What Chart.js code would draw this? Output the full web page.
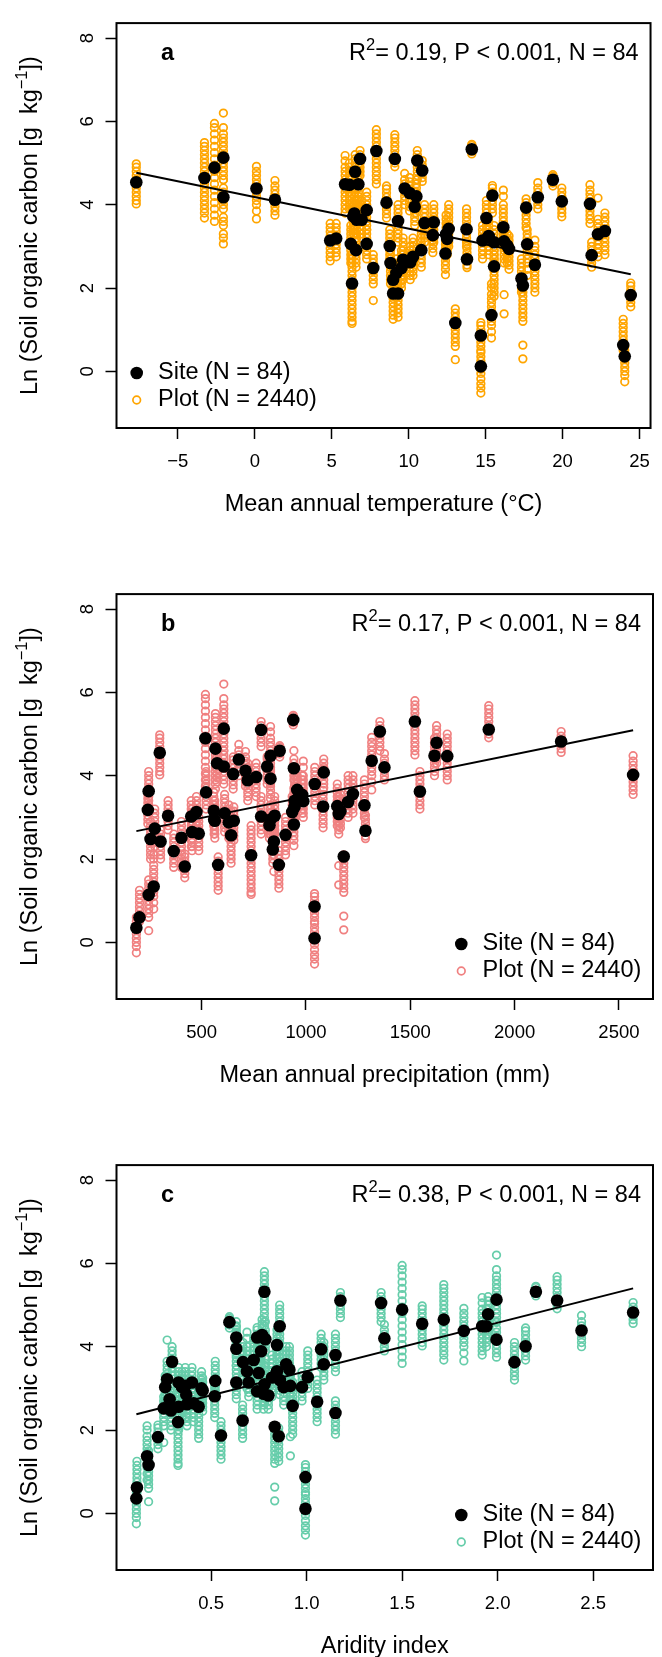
<!DOCTYPE html>
<html>
<head>
<meta charset="utf-8">
<title>Soil organic carbon vs climate</title>
<script src="https://cdn.jsdelivr.net/npm/chart.js@4.4.0/dist/chart.umd.min.js"></script>
<style>
    html, body { margin: 0; padding: 0; background: #fff; overflow: hidden; }
    #wrap { position: relative; width: 662px; height: 1657px; overflow: hidden; }
    .panel { position: absolute; left: 0; width: 662px; height: 571px; }
</style>
</head>
<body>
<div id="wrap">
    <div class="panel" style="top:0px"><canvas id="chart-a" width="662" height="571"></canvas></div>
    <div class="panel" style="top:571px"><canvas id="chart-b" width="662" height="571"></canvas></div>
    <div class="panel" style="top:1142px"><canvas id="chart-c" width="662" height="571"></canvas></div>
</div>
<script>
// Panel a: site mean annual temperature (°C) and site Ln(SOC), sorted by SOC
const siteTemp = [14.69, 24.04, 23.94, 14.69, 13.03, 15.38, 24.43, 8.99, 9.31, 17.42,
    6.32, 8.99, 17.33, 9.2, 7.7, 9.53, 15.55, 18.2, 8.82, 10.1,
    9.64, 13.79, 10.28, 21.89, 12.39, 6.58, 10.82, 16.52, 8.77, 16.4,
    17.7, 6.24, 7.27, 15.55, 16.2, 4.9, 14.8, 12.5, 5.29, 15.2,
    11.57, 12.43, 22.3, 22.75, 13.76, 12.6, 16.15, 11.03, 11.63, 9.31,
    6.62, 6.95, 15.05, 6.4, 6.47, 7.27, 17.63, 10.39, 21.78, 8.56,
    19.95, 1.31, -2.04, 18.39, 10.5, 15.44, 10.06, 0.11, 9.74, 6.15,
    5.87, 6.73, -7.7, 19.37, -3.27, 6.52, 10.88, -2.62, 10.56, 6.84,
    9.1, -2.04, 7.9, 14.1];
const siteSocA = [0.12, 0.36, 0.63, 0.86, 1.16, 1.35, 1.83, 1.87, 1.87, 2.06,
    2.11, 2.20, 2.23, 2.36, 2.48, 2.48, 2.52, 2.56, 2.60, 2.62,
    2.68, 2.69, 2.75, 2.79, 2.83, 2.91, 2.91, 2.94, 3.01, 3.02,
    3.05, 3.06, 3.06, 3.10, 3.12, 3.14, 3.14, 3.18, 3.19, 3.25,
    3.27, 3.29, 3.29, 3.37, 3.41, 3.42, 3.46, 3.56, 3.58, 3.61,
    3.64, 3.64, 3.68, 3.72, 3.79, 3.87, 3.93, 3.95, 4.02, 4.05,
    4.08, 4.12, 4.18, 4.18, 4.20, 4.22, 4.28, 4.39, 4.39, 4.48,
    4.49, 4.49, 4.54, 4.60, 4.64, 4.79, 4.82, 4.89, 5.06, 5.10,
    5.10, 5.13, 5.29, 5.33];

// Plot-level Ln(SOC) of each site, same order as siteTemp / siteSocA
const plotSoc = [
    [-0.52, -0.4, -0.3, -0.18, -0.05, 0.05, 0.15, 0.25, 0.35, 0.45],
    [-0.25, -0.1, 0.0, 0.1, 0.2, 0.3, 0.4, 0.5, 0.6],
    [0.5, 0.65, 0.75, 0.85, 0.95, 1.05, 1.15, 1.25],
    [0.5, 0.6, 0.7, 0.8, 0.9, 1.0, 1.1, 1.17],
    [0.28, 0.6, 0.7, 0.8, 0.9, 1.0, 1.1, 1.2, 1.3, 1.4, 1.5],
    [0.8, 0.95, 1.1, 1.2, 1.3, 1.45, 1.55, 1.65, 1.75, 1.85, 2.0, 2.1],
    [1.55, 1.65, 1.75, 1.85, 1.95, 2.05, 2.12],
    [1.25, 1.35, 1.45, 1.55, 1.65, 1.75, 1.85, 1.95, 2.05],
    [1.3, 1.4, 1.5, 1.6, 1.7, 1.8, 1.9, 2.0, 2.1, 2.2],
    [0.3, 0.63, 1.2, 1.3, 1.4, 1.5, 1.6, 1.7, 1.8, 1.9, 2.0, 2.1],
    [1.15, 1.2, 1.3, 1.4, 1.5, 1.6, 1.7, 1.8, 1.9, 2.0, 2.1, 2.2, 2.3, 2.4, 2.5, 2.6, 2.7, 2.8],
    [1.8, 1.9, 2.0, 2.1, 2.2, 2.3, 2.4, 2.5, 2.6],
    [1.9, 2.0, 2.1, 2.2, 2.3, 2.4, 2.5, 2.6, 2.7],
    [2.0, 2.1, 2.2, 2.3, 2.4, 2.5, 2.6, 2.7],
    [1.7, 2.1, 2.2, 2.3, 2.4, 2.5, 2.6, 2.7, 2.8],
    [2.0, 2.1, 2.2, 2.3, 2.4, 2.5, 2.6, 2.7, 2.8, 2.9],
    [1.8, 1.9, 2.0, 2.1, 2.2, 2.3, 2.4, 2.5, 2.6, 2.7, 2.8, 2.9],
    [1.9, 2.0, 2.1, 2.2, 2.3, 2.4, 2.5, 2.6, 2.7, 2.8, 2.9, 3.0, 3.15],
    [2.1, 2.2, 2.3, 2.4, 2.5, 2.6, 2.7, 2.8, 2.9, 3.0],
    [2.2, 2.3, 2.4, 2.5, 2.6, 2.7, 2.8, 2.9, 3.0],
    [2.2, 2.3, 2.4, 2.5, 2.6, 2.7, 2.8, 2.9, 3.0, 3.1, 3.2],
    [2.49, 2.55, 2.65, 2.75, 2.85, 2.95, 3.05],
    [2.3, 2.4, 2.5, 2.6, 2.7, 2.8, 2.9, 3.0, 3.1, 3.2],
    [2.5, 2.6, 2.7, 2.8, 2.9, 3.0, 3.1],
    [2.32, 2.45, 2.55, 2.65, 2.75, 2.85, 2.95, 3.05, 3.15],
    [2.5, 2.6, 2.7, 2.8, 2.9, 3.0, 3.1, 3.2, 3.3],
    [2.5, 2.6, 2.7, 2.8, 2.9, 3.0, 3.1, 3.2, 3.3, 3.4],
    [2.45, 2.55, 2.65, 2.75, 2.85, 2.95, 3.05, 3.15, 3.25],
    [2.6, 2.7, 2.8, 2.9, 3.0, 3.1, 3.2, 3.3, 3.4],
    [2.6, 2.7, 2.8, 2.9, 3.0, 3.1, 3.2, 3.3],
    [2.3, 2.45, 2.6, 2.7, 2.8, 2.9, 3.0, 3.1, 3.2, 3.3, 3.4],
    [2.6, 2.7, 2.8, 2.9, 3.0, 3.1, 3.2, 3.3, 3.4, 3.5],
    [2.7, 2.8, 2.9, 3.0, 3.1, 3.2, 3.3, 3.4],
    [2.6, 2.7, 2.8, 2.9, 3.0, 3.1, 3.2, 3.3, 3.4, 3.5],
    [1.38, 1.84, 2.6, 2.7, 2.8, 2.9, 3.0, 3.1, 3.2, 3.3, 3.4, 3.5],
    [2.65, 2.75, 2.85, 2.95, 3.05, 3.15, 3.25, 3.35, 3.45, 3.55],
    [2.7, 2.8, 2.9, 3.0, 3.1, 3.2, 3.3, 3.4, 3.5],
    [2.8, 2.9, 3.0, 3.1, 3.2, 3.3, 3.4, 3.5],
    [2.75, 2.85, 2.95, 3.05, 3.15, 3.25, 3.35, 3.45, 3.55],
    [2.8, 2.9, 3.0, 3.1, 3.2, 3.3, 3.4, 3.5, 3.6],
    [2.85, 2.95, 3.05, 3.15, 3.25, 3.35, 3.45, 3.55, 3.65],
    [2.85, 2.95, 3.05, 3.15, 3.25, 3.35, 3.45, 3.55, 3.65, 3.75],
    [2.75, 2.85, 2.95, 3.05, 3.15, 3.25, 3.35, 3.45, 3.55, 3.65, 4.16],
    [2.8, 2.9, 3.0, 3.1, 3.2, 3.3, 3.4, 3.5, 3.6, 3.7, 3.8],
    [3.0, 3.1, 3.2, 3.3, 3.4, 3.5, 3.6, 3.7, 3.8, 3.9],
    [3.0, 3.1, 3.2, 3.3, 3.4, 3.5, 3.6, 3.7, 3.8, 3.9, 4.0],
    [3.0, 3.1, 3.2, 3.3, 3.4, 3.5, 3.6, 3.7, 3.8, 3.9, 4.0, 4.2, 4.35],
    [3.1, 3.2, 3.3, 3.4, 3.5, 3.6, 3.7, 3.8, 3.9, 4.0],
    [3.1, 3.2, 3.3, 3.4, 3.5, 3.6, 3.7, 3.8, 3.9, 4.0],
    [3.1, 3.2, 3.3, 3.4, 3.5, 3.6, 3.7, 3.8, 3.9, 4.0],
    [3.2, 3.3, 3.4, 3.5, 3.6, 3.7, 3.8, 3.9, 4.0, 4.1],
    [3.2, 3.3, 3.4, 3.5, 3.6, 3.7, 3.8, 3.9, 4.0, 4.1],
    [3.2, 3.3, 3.4, 3.5, 3.6, 3.7, 3.8, 3.9, 4.0, 4.1],
    [3.3, 3.4, 3.5, 3.6, 3.7, 3.8, 3.9, 4.0],
    [3.3, 3.4, 3.5, 3.6, 3.7, 3.8, 3.9, 4.0, 4.1, 4.2],
    [3.4, 3.5, 3.6, 3.7, 3.8, 3.9, 4.0, 4.1, 4.2, 4.3],
    [3.45, 3.55, 3.65, 3.75, 3.85, 3.95, 4.05, 4.14],
    [3.5, 3.6, 3.7, 3.8, 3.9, 4.0, 4.1, 4.2, 4.3],
    [3.55, 3.65, 3.75, 3.85, 3.95, 4.05, 4.15, 4.25, 4.35, 4.48],
    [3.68, 3.78, 3.88, 3.98, 4.08, 4.18, 4.28, 4.38, 4.45],
    [3.71, 3.8, 3.9, 4.0, 4.1, 4.2, 4.3, 4.4],
    [3.75, 3.85, 3.95, 4.05, 4.15, 4.25, 4.35, 4.45, 4.58],
    [3.06, 3.2, 3.3, 3.5, 3.6, 3.7, 3.9, 4.0, 4.1, 4.2, 4.3, 4.4, 4.6],
    [3.9, 4.0, 4.1, 4.2, 4.3, 4.4, 4.53],
    [3.8, 3.9, 4.0, 4.1, 4.2, 4.3, 4.4, 4.5, 4.6],
    [3.8, 3.9, 4.0, 4.1, 4.2, 4.3, 4.4, 4.46],
    [3.85, 3.95, 4.05, 4.15, 4.25, 4.35, 4.45, 4.55, 4.65],
    [3.66, 3.85, 4.0, 4.1, 4.2, 4.3, 4.4, 4.5, 4.6, 4.7, 4.8, 4.92],
    [4.0, 4.1, 4.2, 4.3, 4.4, 4.5, 4.6, 4.75],
    [3.9, 4.0, 4.1, 4.2, 4.3, 4.4, 4.5, 4.6, 4.7, 4.8, 4.9, 5.0],
    [3.8, 3.9, 4.0, 4.1, 4.2, 4.3, 4.4, 4.5, 4.6, 4.7, 4.8, 4.9, 5.05, 5.18],
    [4.0, 4.1, 4.2, 4.3, 4.4, 4.5, 4.6, 4.7, 4.8, 4.9],
    [4.02, 4.1, 4.2, 4.3, 4.4, 4.5, 4.6, 4.7, 4.8, 4.9, 4.98],
    [4.45, 4.52, 4.6, 4.68, 4.72],
    [3.68, 3.8, 3.9, 4.0, 4.1, 4.2, 4.3, 4.4, 4.5, 4.6, 4.7, 4.8, 4.9, 5.0, 5.1, 5.2, 5.3, 5.4, 5.49],
    [4.3, 4.4, 4.5, 4.6, 4.7, 4.8, 4.9, 5.0, 5.1, 5.2],
    [4.56, 4.65, 4.75, 4.85, 4.95, 5.06],
    [3.6, 3.75, 3.9, 4.05, 4.2, 4.35, 4.5, 4.65, 4.8, 4.95, 5.1, 5.25, 5.4, 5.55, 5.7, 5.85, 5.95],
    [4.6, 4.7, 4.8, 4.9, 5.0, 5.1, 5.2, 5.3],
    [4.7, 4.8, 4.9, 5.0, 5.1, 5.2, 5.3],
    [4.91, 5.0, 5.1, 5.2, 5.3, 5.4, 5.5, 5.6, 5.68],
    [4.6, 4.7, 4.8, 4.9, 5.0, 5.1, 5.2, 5.3, 5.4, 5.5, 5.6, 5.7, 5.85, 6.2],
    [4.5, 4.6, 4.7, 4.8, 4.9, 5.0, 5.1, 5.2, 5.3, 5.4, 5.5, 5.6, 5.7, 5.8],
    [5.22, 5.28, 5.35, 5.42, 5.45]
];

// Panel b: site mean annual precipitation (mm) and Ln(SOC), sorted by SOC
const sitePrecip = [1041, 187, 202, 1041, 246, 270, 419, 579, 870, 1181,
    737, 366, 841, 303, 846, 255, 403, 641, 902, 486,
    454, 1285, 275, 825, 942, 630, 563, 654, 560, 830,
    450, 785, 339, 850, 1157, 610, 475, 934, 1165, 558,
    242, 945, 1082, 1150, 1280, 1202, 987, 946, 982, 1225,
    521, 1546, 246, 958, 1042, 721, 830, 761, 2568, 651,
    1085, 710, 942, 1376, 606, 814, 574, 1315, 678, 1677,
    830, 1616, 299, 874, 566, 1626, 2223, 518, 1354, 785,
    1876, 606, 1522, 939];
const siteSocB = [0.10, 0.35, 0.60, 0.86, 1.14, 1.34, 1.82, 1.86, 1.86, 2.06,
    2.09, 2.19, 2.23, 2.42, 2.42, 2.48, 2.51, 2.57, 2.58, 2.61,
    2.65, 2.68, 2.73, 2.81, 2.83, 2.88, 2.92, 2.92, 2.95, 2.95,
    3.02, 3.02, 3.04, 3.04, 3.08, 3.10, 3.13, 3.13, 3.15, 3.16,
    3.18, 3.25, 3.26, 3.27, 3.29, 3.37, 3.39, 3.40, 3.54, 3.56,
    3.60, 3.62, 3.63, 3.66, 3.80, 3.89, 3.93, 3.97, 4.02, 4.04,
    4.08, 4.12, 4.18, 4.20, 4.22, 4.22, 4.30, 4.36, 4.39, 4.47,
    4.48, 4.48, 4.55, 4.60, 4.65, 4.79, 4.82, 4.90, 5.06, 5.10,
    5.11, 5.13, 5.30, 5.34];

// Panel c: site aridity index and Ln(SOC), sorted by SOC
const siteArid = [0.994, 0.109, 0.112, 0.994, 0.173, 0.165, 0.222, 0.854, 0.552, 0.833,
    0.327, 0.665, 1.151, 0.29, 0.252, 0.33, 0.435, 0.927, 0.374, 0.409,
    1.055, 0.283, 0.519, 0.8, 0.37, 0.775, 0.741, 0.456, 0.45, 0.26,
    0.348, 0.88, 0.976, 0.365, 0.915, 0.78, 0.33, 0.4, 0.632, 0.697,
    0.522, 0.86, 0.27, 0.819, 1.006, 0.749, 0.688, 0.845, 0.91, 0.893,
    1.09, 0.667, 2.088, 0.296, 0.723, 1.151, 0.762, 1.076, 0.632, 2.146,
    0.845, 1.994, 0.784, 1.407, 0.632, 0.741, 0.767, 1.823, 2.439, 0.859,
    1.919, 1.941, 1.605, 0.596, 1.718, 1.95, 2.709, 1.5, 1.39, 1.177,
    2.311, 1.994, 0.779, 2.2];
const siteSocC = [0.11, 0.36, 0.62, 0.87, 1.16, 1.37, 1.83, 1.85, 1.87, 2.08,
    2.19, 2.23, 2.41, 2.47, 2.52, 2.56, 2.56, 2.58, 2.62, 2.64,
    2.68, 2.74, 2.81, 2.83, 2.85, 2.87, 2.93, 2.95, 3.00, 3.03,
    3.03, 3.03, 3.03, 3.06, 3.06, 3.10, 3.14, 3.14, 3.14, 3.14,
    3.18, 3.20, 3.22, 3.26, 3.27, 3.37, 3.41, 3.41, 3.45, 3.58,
    3.58, 3.63, 3.63, 3.64, 3.68, 3.80, 3.89, 3.94, 3.95, 4.01,
    4.04, 4.17, 4.18, 4.20, 4.22, 4.22, 4.28, 4.38, 4.39, 4.49,
    4.49, 4.49, 4.55, 4.59, 4.65, 4.78, 4.82, 4.89, 5.05, 5.11,
    5.11, 5.13, 5.32, 5.32];

// Fitted regression lines (end points at the data range)
const lineTemp = [-7.7, 24.43];
const lineSocA = [4.77, 2.33];
const linePrecip = [187, 2568];
const lineSocB = [2.67, 5.09];
const lineArid = [0.109, 2.709];
const lineSocC = [2.38, 5.40];

// Axes
const yLimits = [-1, 8];
const yTicks = [0, 2, 4, 6, 8];
const tempTicks = [-5, 0, 5, 10, 15, 20, 25];
const precipTicks = [500, 1000, 1500, 2000, 2500];
const aridTicks = [0.5, 1.0, 1.5, 2.0, 2.5];

const yTitle = ['Ln (Soil organic carbon [g  kg', '\u22121', '])'];
const legendLabels = ['Site (N = 84)', 'Plot (N = 2440)'];

const FONT = '"Liberation Sans", Arial, Helvetica, sans-serif';
const SITE_R = 6.3;
const PLOT_R = 3.8;
const PLOT_LW = 1.7;

// R style axis range: limits stretched by 4 %
function rRange(vals) {
    const lo = Math.min(...vals), hi = Math.max(...vals);
    const pad = (hi - lo) * 0.04;
    return [lo - pad, hi + pad];
}

function rankOrder(vals) {
    return vals.map((v, i) => i).sort((p, q) => vals[p] - vals[q] || p - q);
}

const orderA = rankOrder(siteSocA);

// plot columns follow their site, matched by site SOC rank
function plotPoints(xs, ys) {
    const order = rankOrder(ys);
    const pts = [];
    order.forEach((siteIdx, k) => {
        plotSoc[orderA[k]].forEach(v => pts.push({x: xs[siteIdx], y: v}));
    });
    return pts;
}

function minusFmt(v) {
    return v < 0 ? '\u2212' + Math.abs(v) : String(v);
}

const decorPlugin = {
    id: 'decor',
    afterDraw(chart, args, o) {
        const ctx = chart.ctx;
        const a = chart.chartArea;
        const big = '23.5px ' + FONT;
        const small = '16.5px ' + FONT;
        ctx.save();

        // box
        ctx.strokeStyle = '#000';
        ctx.lineWidth = 2;
        ctx.strokeRect(a.left, a.top, a.right - a.left, a.bottom - a.top);

        ctx.fillStyle = '#000';
        ctx.textAlign = 'left';
        ctx.textBaseline = 'alphabetic';

        // y axis title
        ctx.save();
        ctx.translate(37, (a.top + a.bottom) / 2);
        ctx.rotate(-Math.PI / 2);
        ctx.font = big;
        const w1 = ctx.measureText(yTitle[0]).width;
        const w3 = ctx.measureText(yTitle[2]).width;
        ctx.font = small;
        const w2 = ctx.measureText(yTitle[1]).width;
        let tx = -(w1 + w2 + w3) / 2;
        ctx.font = big;
        ctx.fillText(yTitle[0], tx, 0);
        tx += w1;
        ctx.font = small;
        ctx.fillText(yTitle[1], tx, -10);
        tx += w2;
        ctx.font = big;
        ctx.fillText(yTitle[2], tx, 0);
        ctx.restore();

        // panel letter and statistics
        const by = a.top + 37;
        ctx.font = 'bold 23.5px ' + FONT;
        ctx.fillText(o.letter, a.left + 44.5, by);
        ctx.font = big;
        const wR = ctx.measureText('R').width;
        const wS = ctx.measureText(o.stat).width;
        ctx.font = small;
        const w2s = ctx.measureText('2').width;
        let sx = a.right - 12 - (wR + w2s + wS);
        ctx.font = big;
        ctx.fillText('R', sx, by);
        sx += wR;
        ctx.font = small;
        ctx.fillText('2', sx, by - 10);
        sx += w2s;
        ctx.font = big;
        ctx.fillText(o.stat, sx, by);

        // legend
        const lx = o.legendLeft ? a.left + 20.2 : a.right - 191.7;
        const rows = [a.bottom - 55, a.bottom - 28];
        ctx.beginPath();
        ctx.arc(lx, rows[0], SITE_R, 0, Math.PI * 2);
        ctx.fill();
        ctx.beginPath();
        ctx.arc(lx, rows[1], PLOT_R, 0, Math.PI * 2);
        ctx.strokeStyle = o.color;
        ctx.lineWidth = PLOT_LW;
        ctx.stroke();
        ctx.textBaseline = 'middle';
        ctx.fillText(legendLabels[0], lx + 21.3, rows[0]);
        ctx.fillText(legendLabels[1], lx + 21.3, rows[1]);

        ctx.restore();
    }
};

function axisGrid() {
    return {
        display: true,
        drawOnChartArea: false,
        drawTicks: true,
        tickLength: 11,
        tickWidth: 1.5,
        tickColor: '#000'
    };
}

function makePanel(canvasId, p) {
    const xr = rRange(p.xs);
    const yr = rRange(yLimits);
    const ctx = document.getElementById(canvasId).getContext('2d');
    new Chart(ctx, {
        type: 'scatter',
        data: {
            datasets: [
                {
                    label: 'fit',
                    data: p.lineX.map((x, i) => ({x: x, y: p.lineY[i]})),
                    showLine: true,
                    borderColor: '#000',
                    borderWidth: 2,
                    pointRadius: 0,
                    order: 0
                },
                {
                    label: 'Site',
                    data: p.xs.map((x, i) => ({x: x, y: p.ys[i]})),
                    backgroundColor: '#000',
                    borderWidth: 0,
                    pointRadius: SITE_R,
                    order: 1
                },
                {
                    label: 'Plot',
                    data: plotPoints(p.xs, p.ys),
                    backgroundColor: 'rgba(0,0,0,0)',
                    borderColor: p.color,
                    borderWidth: PLOT_LW,
                    pointRadius: PLOT_R,
                    order: 2
                }
            ]
        },
        options: {
            responsive: false,
            animation: false,
            events: [],
            layout: { padding: { top: 8, right: 9, left: 0, bottom: 0 } },
            plugins: {
                legend: { display: false },
                tooltip: { enabled: false },
                decor: { letter: p.letter, stat: p.stat, color: p.color, legendLeft: p.legendLeft }
            },
            scales: {
                x: {
                    type: 'linear',
                    min: xr[0],
                    max: xr[1],
                    afterBuildTicks: s => { s.ticks = p.xTicks.map(v => ({value: v})); },
                    afterFit: s => { s.height = 143; },
                    grid: axisGrid(),
                    border: { display: false },
                    ticks: {
                        color: '#000',
                        font: { family: FONT, size: 18.5 },
                        padding: 12,
                        maxRotation: 0,
                        autoSkip: false,
                        callback: p.xFormat
                    },
                    title: {
                        display: true,
                        text: p.xTitle,
                        color: '#000',
                        font: { family: FONT, size: 23.5 },
                        padding: { top: 0, bottom: 52 }
                    }
                },
                y: {
                    type: 'linear',
                    min: yr[0],
                    max: yr[1],
                    afterBuildTicks: s => { s.ticks = yTicks.map(v => ({value: v})); },
                    afterFit: s => { s.width = 116.5; },
                    grid: axisGrid(),
                    border: { display: false },
                    ticks: {
                        color: '#000',
                        font: { family: FONT, size: 18.5 },
                        padding: 12,
                        minRotation: 90,
                        maxRotation: 90,
                        crossAlign: 'center',
                        autoSkip: false,
                        callback: v => String(v)
                    }
                }
            }
        },
        plugins: [decorPlugin]
    });
}

makePanel('chart-a', {
    xs: siteTemp, ys: siteSocA, lineX: lineTemp, lineY: lineSocA,
    xTicks: tempTicks, xFormat: minusFmt, color: '#FFA500',
    letter: 'a', stat: '= 0.19, P < 0.001, N = 84', legendLeft: true,
    xTitle: 'Mean annual temperature (\u00B0C)'
});
makePanel('chart-b', {
    xs: sitePrecip, ys: siteSocB, lineX: linePrecip, lineY: lineSocB,
    xTicks: precipTicks, xFormat: v => String(v), color: '#F08080',
    letter: 'b', stat: '= 0.17, P < 0.001, N = 84', legendLeft: false,
    xTitle: 'Mean annual precipitation (mm)'
});
makePanel('chart-c', {
    xs: siteArid, ys: siteSocC, lineX: lineArid, lineY: lineSocC,
    xTicks: aridTicks, xFormat: v => v.toFixed(1), color: '#66CDAA',
    letter: 'c', stat: '= 0.38, P < 0.001, N = 84', legendLeft: false,
    xTitle: 'Aridity index'
});
</script>
</body>
</html>
